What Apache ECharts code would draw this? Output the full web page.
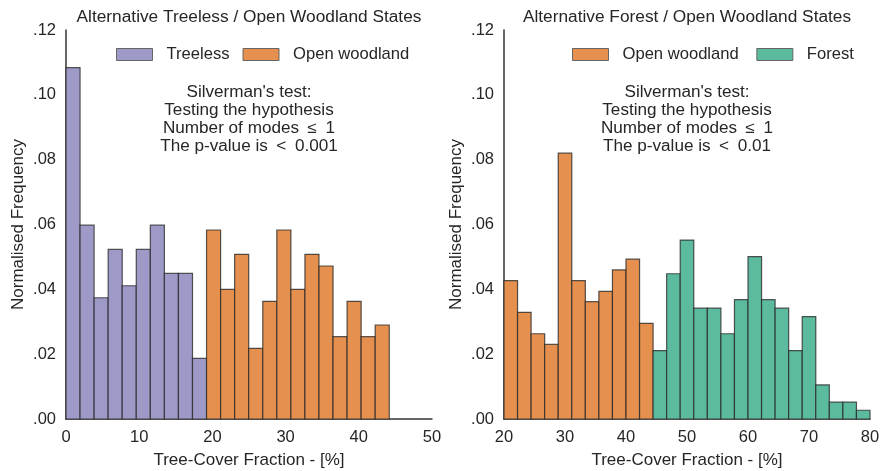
<!DOCTYPE html>
<html>
<head>
<meta charset="utf-8">
<script src="https://cdn.jsdelivr.net/npm/echarts@6/dist/echarts.min.js"></script>
<style>
  html, body { margin: 0; padding: 0; background: #fff; }
  #chart { width: 880px; height: 471px; }
</style>
</head>
<body>
<div id="chart"></div>
<script>
// Histogram bin edges (tree-cover %) and normalised frequencies per bin.

// Left panel: treeless vs open woodland
const leftTreelessEdges = [0, 1.92, 3.84, 5.76, 7.68, 9.6, 11.52, 13.44, 15.36, 17.28, 19.2];
const leftTreelessFreq = [0.1084, 0.0598, 0.0374, 0.0523, 0.0411, 0.0523, 0.0598, 0.0449, 0.0449, 0.0187];
const leftOpenEdges = [19.2, 21.12, 23.04, 24.96, 26.88, 28.8, 30.72, 32.64, 34.56, 36.48, 38.4, 40.32, 42.24, 44.16];
const leftOpenFreq = [0.0583, 0.0400, 0.0508, 0.0218, 0.0363, 0.0583, 0.0400, 0.0508, 0.0472, 0.0254, 0.0363, 0.0254, 0.0290];

// Right panel: open woodland vs forest
const rightOpenEdges = [20, 22.222, 24.444, 26.667, 28.889, 31.111, 33.333, 35.556, 37.778, 40, 42.222, 44.444];
const rightOpenFreq = [0.0427, 0.0329, 0.0263, 0.0230, 0.0820, 0.0427, 0.0362, 0.0394, 0.0460, 0.0493, 0.0295];
const rightForestEdges = [44.444, 46.667, 48.889, 51.111, 53.333, 55.556, 57.778, 60, 62.222, 64.444, 66.667, 68.889, 71.111, 73.333, 75.556, 77.778, 80];
const rightForestFreq = [0.0211, 0.0448, 0.0552, 0.0342, 0.0342, 0.0263, 0.0368, 0.0501, 0.0368, 0.0342, 0.0211, 0.0316, 0.0105, 0.0052, 0.0052, 0.0027];

// Axis ticks
const yTicks = { min: 0, max: 0.12, interval: 0.02 };
const leftXTicks = { min: 0, max: 50, interval: 10 };
const rightXTicks = { min: 20, max: 80, interval: 10 };

const titles = ['Alternative Treeless / Open Woodland States', 'Alternative Forest / Open Woodland States'];
const testLines = [
  ["Silverman's test:", 'Testing the hypothesis', 'Number of modes\u2002\u2264\u20021', 'The p-value is\u2002<\u20020.001'],
  ["Silverman's test:", 'Testing the hypothesis', 'Number of modes\u2002\u2264\u20021', 'The p-value is\u2002<\u20020.01']
];

const COLORS = { treeless: '#9e9ac8', open: '#e5904e', forest: '#5cbb9e' };
const EDGE = 'rgba(40,40,40,0.78)';
const FONT = '"Liberation Sans", Arial, sans-serif';
const TEXT = '#262626';

function binData(edges, freq) {
  return freq.map((f, i) => [edges[i], edges[i + 1], f]);
}

function renderBin(params, api) {
  const p0 = api.coord([api.value(0), 0]);
  const p1 = api.coord([api.value(1), api.value(2)]);
  return {
    type: 'rect',
    shape: { x: p0[0], y: p1[1], width: p1[0] - p0[0], height: p0[1] - p1[1] },
    style: { fill: api.visual('color'), stroke: EDGE, lineWidth: 1.2 }
  };
}

function histSeries(name, color, edges, freq, idx) {
  return {
    type: 'custom', name: name,
    xAxisIndex: idx, yAxisIndex: idx,
    renderItem: renderBin,
    itemStyle: { color: color, borderColor: '#666', borderWidth: 1 },
    encode: { x: [0, 1], y: 2 },
    data: binData(edges, freq),
    animation: false
  };
}

const grids = [
  { left: 66, right: 448, top: 30, bottom: 52, containLabel: false, outerBoundsMode: 'none' },
  { left: 504, right: 10, top: 30, bottom: 52, containLabel: false, outerBoundsMode: 'none' }
];

function xAxis(idx, t) {
  return {
    type: 'value', gridIndex: idx, min: t.min, max: t.max, interval: t.interval,
    name: 'Tree-Cover Fraction - [%]', nameLocation: 'middle', nameGap: 33,
    nameTextStyle: { fontFamily: FONT, fontSize: 17, color: TEXT },
    axisLine: { show: true, lineStyle: { color: '#333', width: 1.5 } },
    axisTick: { show: false }, splitLine: { show: false },
    axisLabel: { fontFamily: FONT, fontSize: 16.5, color: TEXT, margin: 10 }
  };
}
function yAxis(idx) {
  return {
    type: 'value', gridIndex: idx, min: yTicks.min, max: yTicks.max, interval: yTicks.interval,
    name: 'Normalised Frequency', nameLocation: 'middle', nameGap: 39,
    nameTextStyle: { fontFamily: FONT, fontSize: 17, color: TEXT },
    axisLine: { show: true, lineStyle: { color: '#333', width: 1.5 } },
    axisTick: { show: false }, splitLine: { show: false },
    axisLabel: {
      fontFamily: FONT, fontSize: 16.5, color: TEXT, margin: 10,
      formatter: v => v.toFixed(2).replace(/^0/, '')
    }
  };
}

const graphics = [];
[249, 687].forEach((cx, k) => {
  graphics.push({
    type: 'text', x: cx, y: 18, scaleX: 1.08,
    style: { text: titles[k], font: '16px ' + FONT, fill: TEXT, textAlign: 'center', textVerticalAlign: 'middle' }
  });
  testLines[k].forEach((line, j) => {
    graphics.push({
      type: 'text', x: cx, y: 93 + j * 18, scaleX: 1.07,
      style: { text: line, font: '16px ' + FONT, fill: TEXT, textAlign: 'center', textVerticalAlign: 'middle' }
    });
  });
});

const legendBase = {
  orient: 'horizontal', top: 41, itemWidth: 36, itemHeight: 12, itemGap: 13,
  icon: 'rect',
  textStyle: { fontFamily: FONT, fontSize: 16.6, color: TEXT, padding: [0, 0, 0, 9] },
  itemStyle: { borderColor: '#666', borderWidth: 1 },
  selectedMode: false
};

const option = {
  backgroundColor: '#fff',
  animation: false,
  grid: grids,
  xAxis: [xAxis(0, leftXTicks), xAxis(1, rightXTicks)],
  yAxis: [yAxis(0), yAxis(1)],
  legend: [
    Object.assign({}, legendBase, { left: 111, data: ['Treeless', 'Open woodland'] }),
    Object.assign({}, legendBase, { left: 567, data: ['Open woodland ', 'Forest'] })
  ],
  graphic: graphics,
  series: [
    histSeries('Treeless', COLORS.treeless, leftTreelessEdges, leftTreelessFreq, 0),
    histSeries('Open woodland', COLORS.open, leftOpenEdges, leftOpenFreq, 0),
    histSeries('Open woodland ', COLORS.open, rightOpenEdges, rightOpenFreq, 1),
    histSeries('Forest', COLORS.forest, rightForestEdges, rightForestFreq, 1)
  ]
};

const chart = echarts.init(document.getElementById('chart'), null, { renderer: 'canvas' });
chart.setOption(option);
</script>
</body>
</html>
